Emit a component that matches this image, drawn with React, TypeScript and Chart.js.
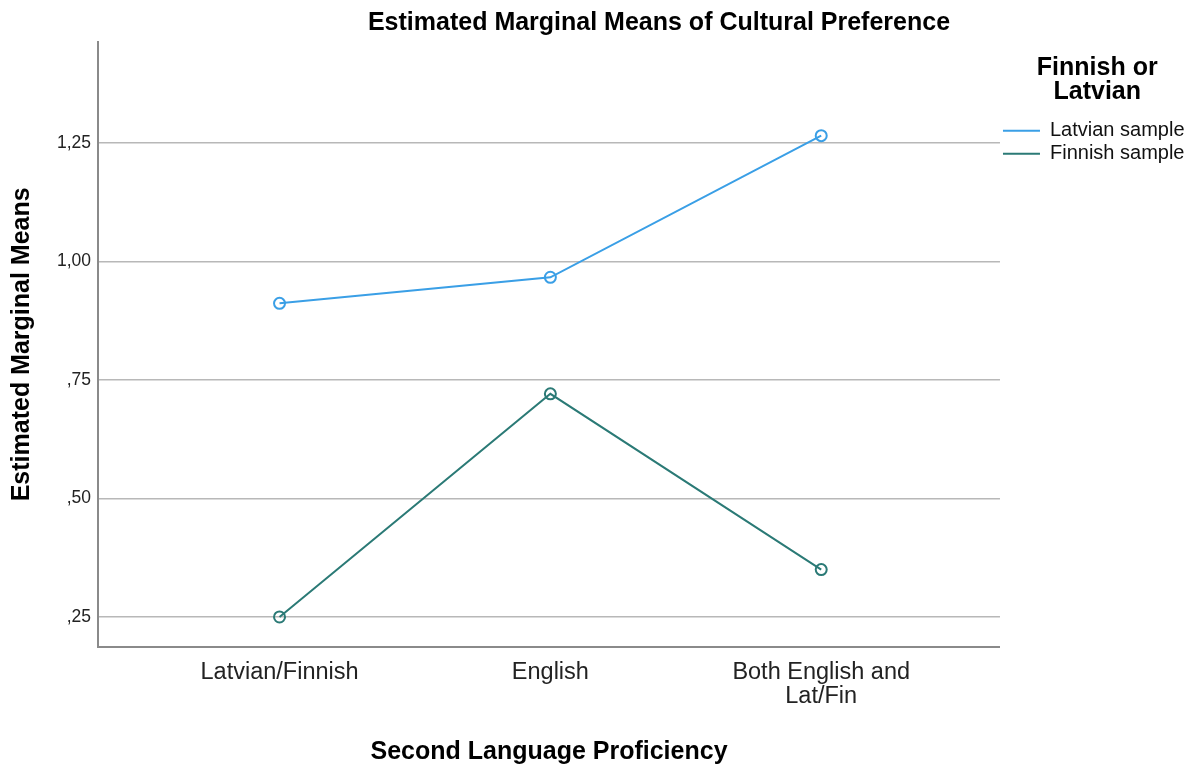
import React, { useEffect, useRef } from "react";
import { Chart, registerables } from "chart.js";

Chart.register(...registerables);

// ---- data ----
const categories: (string | string[])[] = [
  "Latvian/Finnish",
  "English",
  ["Both English and", "Lat/Fin"],
];
const seriesNames = ["Latvian sample", "Finnish sample"];
const latvianSample = [0.912, 0.967, 1.266];
const finnishSample = [0.25, 0.721, 0.35];
const yTicks = [0.25, 0.5, 0.75, 1.0, 1.25];
const yTickLabels = [",25", ",50", ",75", "1,00", "1,25"];
const legendTitle = ["Finnish or", "Latvian"];
const chartTitle = "Estimated Marginal Means of Cultural Preference";
const xTitle = "Second Language Proficiency";
const yTitle = "Estimated Marginal Means";

const BLUE = "#3a9fe6";
const TEAL = "#2b7a76";
const FONT = "'Liberation Sans', Arial, sans-serif";

const titleShift = {
  id: "titleShift",
  afterLayout(chart: any) {
    const t = chart.titleBlock;
    if (t) {
      t.left = 118;
      t.right = 1200;
    }
  },
};

export default function App() {
  const ref = useRef<HTMLCanvasElement | null>(null);

  useEffect(() => {
    document.body.style.margin = "0";
    const canvas = ref.current;
    if (!canvas) return;
    Chart.defaults.font.family = FONT;

    const toPoints = (vals: number[]) =>
      categories.map((_, i) => ({ x: i, y: vals[i] }));

    const mkSet = (label: string, vals: number[], color: string) => ({
      label,
      data: toPoints(vals),
      borderColor: color,
      backgroundColor: "rgba(255,255,255,0)",
      borderWidth: 2,
      pointRadius: 5.5,
      pointBorderWidth: 2,
      pointBorderColor: color,
      pointBackgroundColor: "rgba(255,255,255,0)",
      pointStyle: "circle",
      tension: 0,
      fill: false,
    });

    const chart = new Chart(canvas, {
      type: "line",
      data: {
        datasets: [
          mkSet(seriesNames[0], latvianSample, BLUE),
          mkSet(seriesNames[1], finnishSample, TEAL),
        ] as any,
      },
      plugins: [titleShift as any],
      options: {
        animation: false,
        responsive: false,
        events: [],
        layout: { padding: { left: 0, right: 5.5, top: 0, bottom: 0 } },
        scales: {
          x: {
            type: "linear",
            min: -0.67,
            max: 2.66,
            afterBuildTicks: (scale: any) => {
              scale.ticks = categories.map((_, i) => ({ value: i }));
            },
            ticks: {
              autoSkip: false,
              maxRotation: 0,
              minRotation: 0,
              padding: 14.5,
              color: "#222",
              font: { size: 23.5, lineHeight: 1.0 },
              callback: (v: any) => categories[Number(v)] as any,
            },
            grid: { display: false, drawTicks: false },
            border: { display: true, color: "#8a8a8a", width: 2 },
            title: {
              display: true,
              text: xTitle,
              color: "#000",
              font: { size: 25, weight: "bold", lineHeight: 1.2 },
              padding: { top: 14.35, bottom: 10 },
            },
          },
          y: {
            type: "linear",
            min: 0.1873,
            max: 1.4637,
            afterBuildTicks: (scale: any) => {
              scale.ticks = yTicks.map((v) => ({ value: v }));
            },
            ticks: {
              padding: 7,
              color: "#222",
              font: { size: 17.5 },
              callback: (v: any) => yTickLabels[yTicks.indexOf(Number(v))],
            },
            grid: {
              display: true,
              drawTicks: false,
              color: "#b8b8b8",
              lineWidth: 1.5,
            },
            border: { display: true, color: "#8a8a8a", width: 2 },
            title: {
              display: true,
              text: yTitle,
              color: "#000",
              font: { size: 25, weight: "bold", lineHeight: 1.2 },
              padding: { top: 7, bottom: 13 },
            },
          },
        },
        plugins: {
          title: {
            display: true,
            text: chartTitle,
            color: "#000",
            font: { size: 25, weight: "bold", lineHeight: 1.2 },
            padding: { top: 8, bottom: 4 },
          },
          legend: {
            display: true,
            position: "right",
            align: "start",
            title: {
              display: true,
              text: legendTitle as any,
              color: "#000",
              font: { size: 25, weight: "bold", lineHeight: 0.93 },
              padding: { top: 56, bottom: 38.5 },
            },
            labels: {
              usePointStyle: true,
              pointStyle: "line",
              pointStyleWidth: 37,
              padding: 3,
              color: "#111",
              font: { size: 20, lineHeight: 1 },
            },
          },
          tooltip: { enabled: false },
        },
      },
    });
    return () => chart.destroy();
  }, []);

  return (
    <div style={{ width: 1200, height: 777, position: "relative", background: "#fff" }}>
      <canvas ref={ref} width={1200} height={777} style={{ display: "block" }} />
    </div>
  );
}
